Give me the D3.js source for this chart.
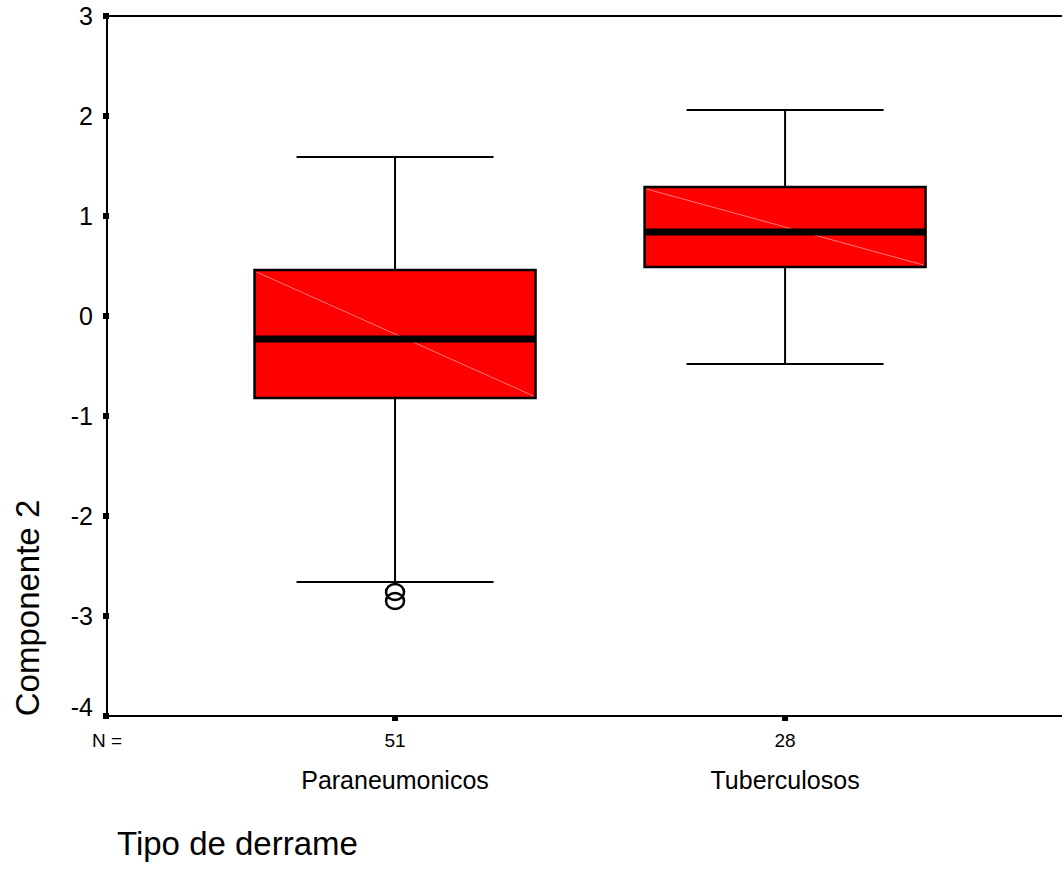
<!DOCTYPE html>
<html>
<head>
<meta charset="utf-8">
<script src="https://cdn.jsdelivr.net/npm/d3@7"></script>
<style>
  html, body { margin: 0; padding: 0; background: #fff; }
  svg { display: block; font-family: "Liberation Sans", Arial, sans-serif; }
</style>
</head>
<body>
<svg id="chart" width="1062" height="886"></svg>
<script>
// ---- Data ----
const categories = ["Paraneumonicos", "Tuberculosos"];
const counts = [51, 28];
const whiskerLow = [-2.66, -0.48];
const q1 = [-0.82, 0.49];
const median = [-0.23, 0.84];
const q3 = [0.46, 1.29];
const whiskerHigh = [1.59, 2.06];
const outliers = [[-2.76, -2.85], []];
const yTicks = [3, 2, 1, 0, -1, -2, -3, -4];

const yLabel = "Componente 2";
const xLabel = "Tipo de derrame";

(function () {
  // ---- Layout ----
  const svg = d3.select("#chart");
  const pL = 107, pR = 1062, pT = 16, pB = 716;

  const y = d3.scaleLinear().domain([-4, 3]).range([pB, pT]);
  const x = d3.scaleLinear().domain([0.2615, 2.71]).range([pL, pR]);
  const boxW = 281, capW = 197;

  // Axes frame: left, top, bottom (open right)
  svg.append("line").attr("x1", pL).attr("x2", pR).attr("y1", pT).attr("y2", pT)
    .attr("stroke", "#000").attr("stroke-width", 2);
  svg.append("line").attr("x1", pL).attr("x2", pR).attr("y1", pB).attr("y2", pB)
    .attr("stroke", "#000").attr("stroke-width", 2);
  svg.append("line").attr("x1", pL).attr("x2", pL).attr("y1", pT).attr("y2", pB)
    .attr("stroke", "#000").attr("stroke-width", 2);

  // Y ticks (small squares) and labels
  yTicks.forEach(t => {
    const yy = y(t);
    svg.append("rect").attr("x", pL - 4).attr("y", yy - 3).attr("width", 6).attr("height", 6).attr("fill", "#000");
    svg.append("text").attr("x", 93).attr("y", t === -4 ? yy - 9 : yy)
      .attr("text-anchor", "end").attr("dominant-baseline", "central")
      .attr("font-size", 25).attr("fill", "#000").text(t);
  });

  // Boxes
  categories.forEach((c, i) => {
    const cx = x(i + 1);
    const g = svg.append("g");
    g.append("line").attr("x1", cx).attr("x2", cx).attr("y1", y(whiskerHigh[i])).attr("y2", y(q3[i]))
      .attr("stroke", "#000").attr("stroke-width", 2);
    g.append("line").attr("x1", cx).attr("x2", cx).attr("y1", y(q1[i])).attr("y2", y(whiskerLow[i]))
      .attr("stroke", "#000").attr("stroke-width", 2);
    [whiskerHigh[i], whiskerLow[i]].forEach(v => {
      g.append("line").attr("x1", cx - capW / 2).attr("x2", cx + capW / 2).attr("y1", y(v)).attr("y2", y(v))
        .attr("stroke", "#000").attr("stroke-width", 2);
    });
    const bx = cx - boxW / 2, by = y(q3[i]), bh = y(q1[i]) - y(q3[i]);
    g.append("rect").attr("x", bx).attr("y", by).attr("width", boxW).attr("height", bh)
      .attr("fill", "#ff0000");
    g.append("line").attr("x1", bx + 2).attr("y1", by + 2).attr("x2", bx + boxW - 2).attr("y2", by + bh - 2)
      .attr("stroke", "#ff7a7a").attr("stroke-width", 1);
    g.append("rect").attr("x", bx).attr("y", by).attr("width", boxW).attr("height", bh)
      .attr("fill", "none").attr("stroke", "#000").attr("stroke-width", 2.5);
    g.append("line").attr("x1", bx).attr("x2", bx + boxW).attr("y1", y(median[i])).attr("y2", y(median[i]))
      .attr("stroke", "#000").attr("stroke-width", 7);
    outliers[i].forEach(v => {
      g.append("ellipse").attr("cx", cx).attr("cy", y(v)).attr("rx", 9).attr("ry", 8)
        .attr("fill", "none").attr("stroke", "#000").attr("stroke-width", 2.5);
    });
    svg.append("rect").attr("x", cx - 3).attr("y", pB).attr("width", 6).attr("height", 5).attr("fill", "#000");
    svg.append("text").attr("x", cx).attr("y", 747).attr("text-anchor", "middle")
      .attr("font-size", 19).attr("fill", "#000").text(counts[i]);
    svg.append("text").attr("x", cx).attr("y", 789).attr("text-anchor", "middle")
      .attr("font-size", 25).attr("fill", "#000").text(c);
  });

  svg.append("text").attr("x", 92).attr("y", 747).attr("font-size", 19).attr("fill", "#000").text("N =");

  svg.append("text").attr("transform", "translate(39,608) rotate(-90)").attr("text-anchor", "middle")
    .attr("font-size", 33).attr("fill", "#000").text(yLabel);
  svg.append("text").attr("x", 117).attr("y", 855).attr("font-size", 33).attr("fill", "#000").text(xLabel);
})();
</script>
</body>
</html>
